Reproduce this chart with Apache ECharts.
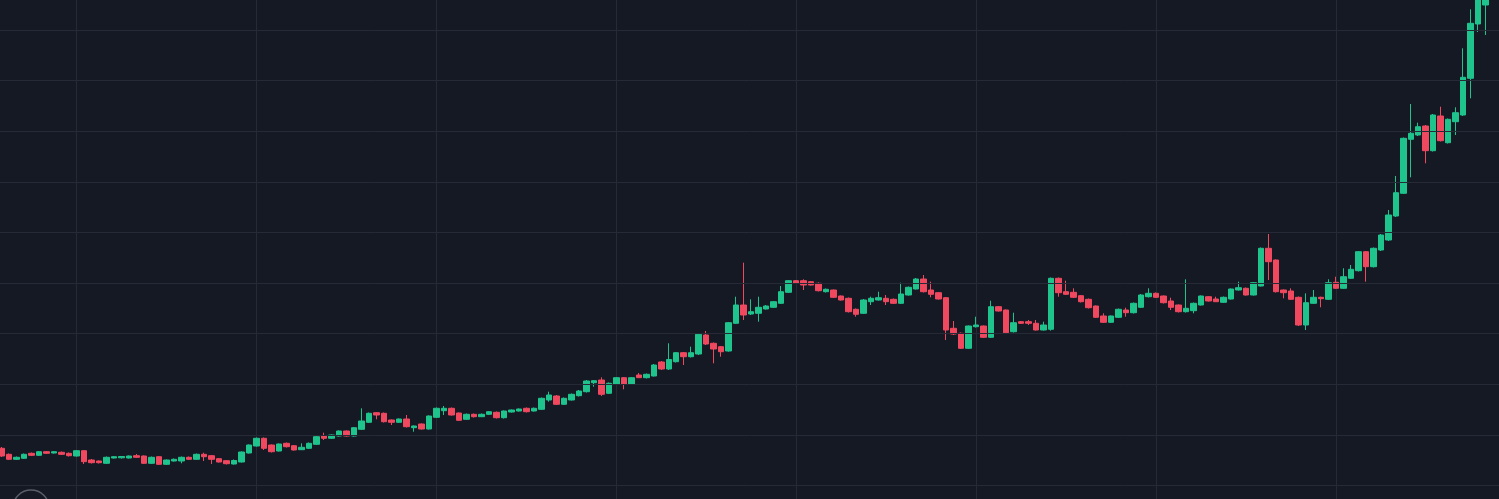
<!DOCTYPE html>
<html>
<head>
<meta charset="utf-8">
<script src="https://cdn.jsdelivr.net/npm/echarts@6/dist/echarts.min.js"></script>
<style>
  html, body { margin: 0; padding: 0; background: #151924; }
  #chart { width: 1499px; height: 499px; }
</style>
</head>
<body>
<div id="chart"></div>
<script>
// price, arbitrary units (one grid row = 50.6)
const opens = [
  87.7, 81.7, 76.7, 77.7, 82.7, 80.7, 84.3, 83, 83.7, 82.7,
  80, 85.3, 76, 75, 72.7, 78, 78.2, 78, 80.3, 80,
  72.7, 79.3, 71.7, 75, 75, 78.7, 76.7, 81.7, 80.3, 77.3,
  75.3, 72, 74, 83, 90, 97.7, 91, 85, 92.7, 90.3,
  86.3, 87.7, 91.7, 100.3, 97.7, 100, 105, 100, 106.7, 113.7,
  123.3, 122.7, 116, 113.7, 117, 108.3, 112, 107, 118.7, 125.3,
  127.7, 123, 116.7, 121.7, 119.3, 121.7, 123.7, 118.3, 124, 125,
  127.7, 125, 126.7, 136, 140, 131.7, 136, 140.3, 144.3, 153.3,
  156, 142.7, 151.7, 158.3, 151.7, 161, 158.3, 160, 174, 167,
  174.3, 183.3, 179.3, 182, 201, 192.7, 189.3, 185, 212.7, 231,
  222, 222.7, 227, 228.7, 232.7, 243.7, 255.3, 255.3, 254.3, 252.7,
  244.3, 246, 240, 237.7, 226.7, 222.7, 234.3, 236, 237.7, 236.7,
  232.7, 241, 247, 257, 246, 243.3, 238.3, 207.7, 202.7, 187.7,
  209.3, 210, 198.7, 229.3, 226, 204.3, 214.3, 214.3, 212.7, 206,
  206.7, 257.7, 244.3, 243.7, 240.3, 236.7, 230, 220, 213.7, 218.7,
  226, 223.3, 228.7, 239.3, 242.7, 240, 235, 231, 224.3, 225.3,
  231, 239.3, 237, 233.7, 237, 246, 247.7, 241, 250, 287.7,
  276, 246, 245, 238.7, 211, 232.7, 238.7, 236.7, 253.7, 247.7,
  257.7, 265.3, 284.3, 269.3, 286, 296, 320, 342.7, 396.7, 401,
  410, 385.3, 420, 393.3, 414.3, 421, 457.7, 512, 531
];
const closes = [
  80, 76.7, 78.7, 81.7, 80.7, 84.3, 82.7, 84.3, 81.7, 80.3,
  85.3, 74.3, 73.3, 73.3, 78.7, 79.3, 79.5, 80, 78.7, 72.7,
  78.7, 71.7, 76, 76.7, 78.7, 76.7, 81.7, 79.3, 76.7, 74,
  72.3, 75.5, 84, 91, 97.7, 87.7, 84.3, 92, 89.3, 86,
  88.7, 92.7, 99.3, 97.7, 101, 105, 100, 108.3, 115, 122.7,
  121, 114.3, 113.7, 117, 109.3, 110, 107, 120, 127.7, 127.7,
  121, 115.7, 121.7, 119.3, 121.7, 124.3, 118.3, 125, 126, 127,
  124.3, 127.7, 137.7, 141, 131.7, 137.7, 141.7, 145, 155, 155.3,
  141.7, 152.7, 158.3, 151.7, 158.3, 158.3, 161.7, 171, 167, 176.5,
  183.3, 179.3, 183.3, 201.7, 192, 187, 184.3, 213.3, 231, 221,
  224.3, 228.7, 230, 234.3, 244.3, 255.3, 252.7, 251, 251, 245.3,
  246.7, 238.7, 236, 224.3, 221.7, 236, 237.7, 238.3, 234.3, 232.7,
  242, 248.7, 257, 244.3, 241.7, 237, 206, 202, 187.7, 210,
  211, 198.7, 229.3, 225, 203.3, 213.3, 212.7, 212.7, 206, 211,
  257.7, 243.3, 241.7, 238.7, 234.3, 228.3, 218.7, 213.7, 220, 226.7,
  223.3, 232.7, 241, 242.7, 238.7, 233.3, 228.7, 224.3, 227.7, 232.7,
  240, 235, 234.3, 238.7, 247, 248.3, 241, 253.3, 287.7, 274.3,
  244.3, 243.3, 236.7, 211, 233.3, 238.7, 237.3, 253.3, 247.7, 259.3,
  266.7, 284.3, 269.3, 287.7, 301, 321, 343.3, 397.7, 402.7, 409.3,
  385.3, 421, 395.3, 416.7, 423.3, 458.7, 512.7, 546, 550
];
const lows = [
  79, 76, 76, 77, 80, 80, 82, 82.5, 81, 79.5,
  79.5, 72, 72.5, 72.5, 72, 77.5, 77.5, 77.5, 78, 72,
  72, 71, 71, 74.5, 72.7, 76, 76, 75, 72, 73.5,
  71.5, 71.5, 73.5, 82.5, 89.5, 86, 83.5, 84.5, 88.5, 85.5,
  86, 87, 91, 96, 97, 99.5, 99.5, 99.5, 106, 113,
  116.7, 113.5, 111, 113, 108.5, 104.3, 106.5, 106.5, 118, 121,
  120.5, 115, 116, 118.5, 119, 121, 117.5, 117.5, 123.5, 124.5,
  123.5, 124.5, 126, 134.3, 131, 131, 135.5, 139.5, 143.5, 149.3,
  140, 142, 151, 146.7, 151, 158, 157.5, 159.5, 166, 166,
  173.5, 171, 178.5, 181, 191, 172.7, 179.3, 184.3, 212, 216,
  221, 214.3, 226.5, 228, 232, 243, 252, 246, 250.5, 244.5,
  243.5, 238, 235.5, 223.5, 219.3, 222, 231, 235.5, 231, 232,
  232, 240.5, 246.5, 243.5, 238.7, 236.5, 196, 201, 187, 187,
  208.5, 198, 198, 224.5, 202.5, 203.5, 212, 211, 205.5, 205.5,
  205.3, 239.3, 241, 238, 233.5, 227.5, 218, 213, 213, 218,
  219.3, 222.5, 228, 238.5, 238, 232.5, 226, 223.5, 223.5, 222.7,
  230.5, 234.5, 234, 233, 236.5, 245.5, 240.5, 240.5, 249.5, 256,
  243.5, 237.7, 236, 210, 206, 232, 228.7, 236, 247, 247,
  257, 264.5, 254.3, 268.5, 285, 295, 319, 342, 358.7, 400,
  372.7, 384.5, 394.5, 392.5, 401, 420, 437.7, 504, 501
];
const highs = [
  89, 82.5, 79.5, 82.5, 83.5, 85, 85, 85, 84.5, 83.5,
  86, 86, 77, 75.5, 79.5, 80, 80, 80.5, 82, 80.5,
  79.5, 80, 76.5, 77.5, 79.5, 79.5, 82.5, 83.3, 81, 78,
  76, 76.5, 84.5, 91.5, 98.5, 98.5, 91.5, 92.5, 93.5, 91,
  92.7, 93.5, 100, 103.3, 101.5, 105.5, 105.5, 109, 127.7, 123.5,
  123.8, 123.5, 116.5, 117.5, 121, 110.5, 112.5, 120.5, 128.5, 130,
  128.5, 123.5, 122.5, 122.5, 122.5, 125, 124.5, 125.5, 126.5, 127.5,
  128.5, 128.5, 138.5, 144.3, 141, 138.5, 142.5, 146, 156, 156,
  158.7, 153.5, 159, 159, 159, 163, 162.5, 172, 175, 192.7,
  184, 184, 189.3, 202.5, 205, 193.5, 190, 214, 239.3, 273.3,
  236.7, 239.3, 231, 235, 250, 256, 256, 256.7, 255, 253.5,
  247.5, 246.5, 240.5, 238.5, 227.5, 237, 239.3, 244.3, 241, 237.5,
  253.3, 249.5, 258, 261, 254.3, 244, 239, 215, 203.5, 210.5,
  219.3, 210.5, 235.3, 230, 226.5, 223.3, 215, 216, 216, 214.3,
  258.5, 258.5, 255.3, 247.7, 241, 237.5, 230.5, 222.7, 220.5, 227.5,
  228.3, 233.5, 242, 247.7, 243.5, 240.5, 238.3, 231.5, 256.7, 233.5,
  240.5, 240, 239.3, 239.5, 247.5, 254.3, 248.5, 254, 288.5, 302,
  276.5, 246.5, 247.7, 239.5, 242.7, 246, 239.3, 256.7, 259.3, 267.7,
  271, 285, 285, 288.5, 302, 326, 360, 398.5, 432, 413.3,
  411, 422, 429.3, 417.5, 428.7, 487.7, 526.7, 548, 555
];
const bars = opens.map((_, i) => i + 1);
// horizontal grid levels, one every 50.6 units
const gridLevels = [50.6, 101.2, 151.8, 202.4, 253, 303.6, 354.2, 404.8, 455.4, 506];

const upColor = '#1fc48d';
const downColor = '#f0485f';
const gridColor = '#252a36';
const priceMin = 37;
const priceMax = 536;

const chart = echarts.init(document.getElementById('chart'));

chart.setOption({
  backgroundColor: '#151924',
  animation: false,
  grid: [
    { left: 1.7, right: 13.3, top: 0, bottom: 0 },
    // full-width grid, only used so the price lines reach the right edge
    { left: 0, right: 0, top: 0, bottom: 0 },
  ],
  xAxis: [
    {
      type: 'category',
      gridIndex: 0,
      data: bars,
      boundaryGap: false,
      axisLine: { show: false },
      axisTick: { show: false },
      axisLabel: { show: false },
      splitLine: {
        show: true,
        interval: (index) => (index - 10) % 24 === 0,
        lineStyle: { color: gridColor, width: 1 },
      },
    },
    { type: 'value', gridIndex: 1, min: 0, max: 1, show: false },
  ],
  yAxis: [
    {
      type: 'value',
      gridIndex: 0,
      min: priceMin,
      max: priceMax,
      axisLine: { show: false },
      axisTick: { show: false },
      axisLabel: { show: false },
      splitLine: { show: false },
    },
    { type: 'value', gridIndex: 1, min: priceMin, max: priceMax, show: false },
  ],
  graphic: [
    {
      type: 'circle',
      shape: { cx: 31, cy: 508, r: 18 },
      style: { fill: 'none', stroke: '#5a5e69', lineWidth: 1.5 },
    },
  ],
  series: [
    {
      type: 'line',
      xAxisIndex: 1,
      yAxisIndex: 1,
      data: [],
      z: 1,
      silent: true,
      markLine: {
        silent: true,
        symbol: 'none',
        label: { show: false },
        lineStyle: { color: gridColor, type: 'solid', width: 1 },
        data: gridLevels.map((v) => ({ yAxis: v })),
      },
    },
    {
      type: 'candlestick',
      xAxisIndex: 0,
      yAxisIndex: 0,
      z: 3,
      clip: false,
      barWidth: 6,
      data: bars.map((_, i) => [opens[i], closes[i], lows[i], highs[i]]),
      itemStyle: {
        color: upColor,
        color0: downColor,
        borderColor: upColor,
        borderColor0: downColor,
        borderWidth: 1,
      },
    },
  ],
});
</script>
</body>
</html>
